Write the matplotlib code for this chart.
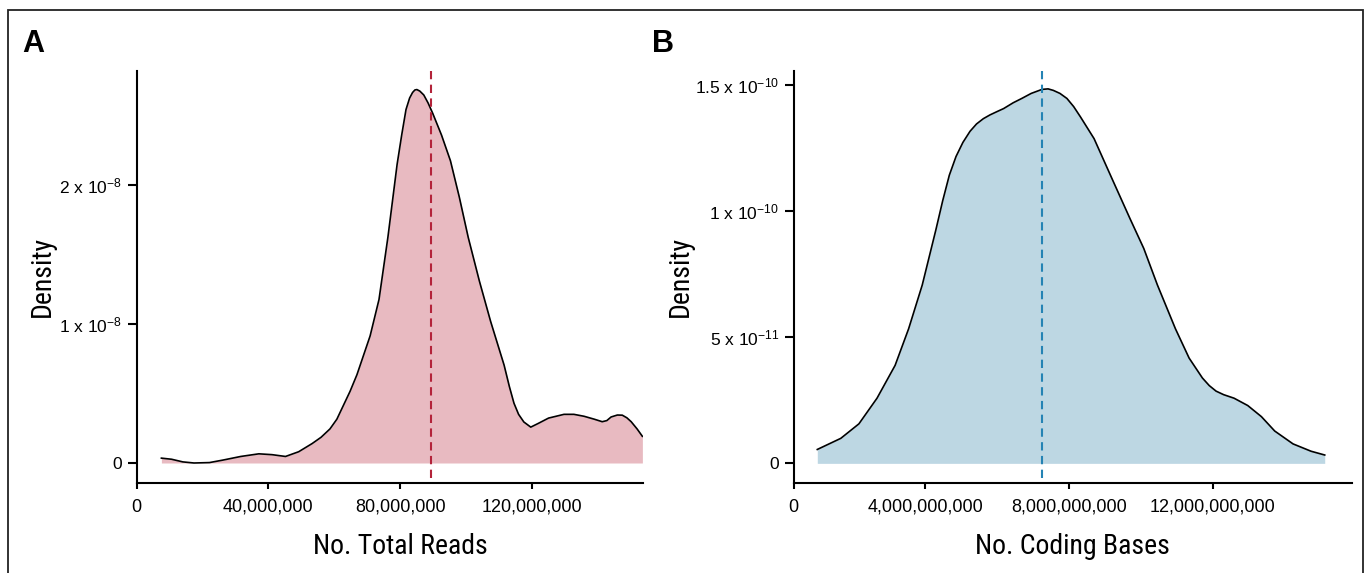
import matplotlib
matplotlib.use("Agg")
import matplotlib.pyplot as plt
from matplotlib.patches import Rectangle
from matplotlib import font_manager

plt.rcParams['font.family'] = ['Liberation Sans', 'DejaVu Sans']
plt.rcParams['mathtext.fontset'] = 'custom'
plt.rcParams['mathtext.rm'] = 'Liberation Sans'
plt.rcParams['mathtext.it'] = 'Liberation Sans'

# Panel A: density of total reads
reads_x = [7.5e6, 10.6e6, 14.0e6, 17.4e6, 22.1e6, 26.2e6, 31.6e6, 37.1e6, 41.1e6, 45.2e6,
           49.2e6, 53.3e6, 56.0e6, 58.7e6, 60.8e6, 62.8e6, 64.8e6, 66.9e6, 70.9e6, 73.6e6,
           76.3e6, 79.1e6, 80.5e6,
           81.8e6, 82.9e6, 83.8e6, 84.5e6, 85.1e6, 86.0e6, 87.2e6, 88.5e6, 89.9e6, 92.6e6,
           95.3e6, 98.0e6, 100.7e6, 104.1e6, 107.5e6, 111.6e6, 113.2e6, 114.6e6, 116.0e6,
           117.6e6, 119.7e6, 122.0e6, 125.1e6, 129.8e6, 132.8e6, 135.9e6, 139.0e6, 141.4e6,
           142.8e6, 144.1e6, 146.0e6, 147.5e6, 148.9e6, 150.2e6, 152.0e6, 153.6e6]
reads_y = [0.035, 0.027, 0.008, 0.0, 0.003, 0.021, 0.047, 0.066, 0.060, 0.047,
           0.081, 0.140, 0.185, 0.245, 0.315, 0.415, 0.515, 0.635, 0.914, 1.176,
           1.623, 2.148, 2.36,
           2.542, 2.625, 2.665, 2.683, 2.686, 2.675, 2.647, 2.59, 2.516, 2.358,
           2.174, 1.912, 1.623, 1.308, 1.019, 0.704, 0.55, 0.43, 0.35,
           0.295, 0.258, 0.285, 0.323, 0.350, 0.35, 0.336, 0.315, 0.297,
           0.305, 0.331, 0.345, 0.344, 0.325, 0.297, 0.245, 0.192]
reads_y = [v * 1e-8 for v in reads_y]
reads_mean = 89.5e6
reads_ticks = [0, 40e6, 80e6, 120e6]
reads_ticklabels = ['0', '40,000,000', '80,000,000', '120,000,000']
reads_yticks = [0, 1e-8, 2e-8]
reads_yticklabels = ['0', r'1 x 10$^{\mathregular{-8}}$', r'2 x 10$^{\mathregular{-8}}$']

# Panel B: density of coding bases
bases_x = [1.004, 1.657, 2.161, 2.664, 3.167, 3.543, 3.921, 4.299, 4.49, 4.674, 4.86, 5.052,
           5.25, 5.43, 5.62, 5.806, 6.0, 6.184, 6.45, 6.687, 6.95, 7.252, 7.42, 7.566,
           7.75, 7.944, 8.13, 8.32, 8.698, 9.201, 9.704, 10.08, 10.46, 10.96, 11.34, 11.71,
           11.9, 12.09, 12.3, 12.59, 12.97, 13.35, 13.72, 14.23, 14.73, 15.11]
bases_x = [v * 1e9 for v in bases_x]
bases_y = [0.55, 0.99, 1.565, 2.58, 3.88, 5.33, 7.06, 9.24, 10.40, 11.41, 12.15, 12.71,
           13.15, 13.44, 13.65, 13.80, 13.93, 14.05, 14.28, 14.45, 14.65, 14.81, 14.83, 14.77,
           14.65, 14.45, 14.13, 13.72, 12.86, 11.26, 9.67, 8.51, 7.06, 5.33, 4.17, 3.38,
           3.08, 2.86, 2.72, 2.58, 2.29, 1.85, 1.28, 0.77, 0.48, 0.33]
bases_y = [v * 1e-11 for v in bases_y]
bases_mean = 7.25e9
bases_ticks = [0.348e9, 4e9, 8e9, 12e9]
bases_ticklabels = ['0', '4,000,000,000', '8,000,000,000', '12,000,000,000']
bases_yticks = [0, 5e-11, 1e-10, 1.5e-10]
bases_yticklabels = ['0', r'5 x 10$^{\mathregular{-11}}$', r'1 x 10$^{\mathregular{-10}}$',
                     r'1.5 x 10$^{\mathregular{-10}}$']

W, H = 1368, 573
fig = plt.figure(figsize=(W / 100, H / 100), dpi=100)


def px_box(x0, y0, x1, y1):
    return [x0 / W, 1 - y1 / H, (x1 - x0) / W, (y1 - y0) / H]


# outer frame
fig.patches.append(Rectangle((8 / W, -0.05), (1363 - 8) / W, 1.05 - 10 / H,
                             transform=fig.transFigure, fill=False,
                             edgecolor='#222222', linewidth=1.3))

axA = fig.add_axes(px_box(136.7, 71.2, 642.7, 483.3))
axB = fig.add_axes(px_box(793.7, 71.2, 1351.7, 483.3))


def style(ax, xs, ys, fill, dash_col, mean, xticks, xlabels, yticks, ylabels, xlim, ylim):
    ax.fill_between(xs, 0, ys, color=fill, linewidth=0)
    ax.plot(xs, ys, color='black', linewidth=1.2, solid_joinstyle='round')
    ax.axvline(mean, ymin=0.012, ymax=1, color=dash_col, linewidth=1.5,
               linestyle=(0, (4, 2.6)))
    ax.set_xlim(*xlim)
    ax.set_ylim(*ylim)
    ax.set_xticks(xticks)
    ax.set_xticklabels(xlabels, fontsize=13)
    ax.set_yticks(yticks)
    ax.set_yticklabels(ylabels, fontsize=12.5)
    for s in ['top', 'right']:
        ax.spines[s].set_visible(False)
    for s in ['left', 'bottom']:
        ax.spines[s].set_linewidth(1.5)
    ax.tick_params(axis='x', length=4.5, width=1.5, pad=6.5)
    ax.tick_params(axis='y', length=6.5, width=1.5, pad=4)
    ax.patch.set_alpha(0)


style(axA, reads_x, reads_y, '#e8bac1', '#b3233a', reads_mean,
      reads_ticks, reads_ticklabels, reads_yticks, reads_yticklabels,
      (0, 153.7e6), (-0.146e-8, 2.818e-8))
style(axB, bases_x, bases_y, '#bdd7e3', '#2483b4', bases_mean,
      bases_ticks, bases_ticklabels, bases_yticks, bases_yticklabels,
      (0.348e9, 15.86e9), (-0.79e-11, 15.53e-11))

# condensed face if one is installed, else a regular face at a smaller size
installed = {f.name for f in font_manager.fontManager.ttflist}
cond = [n for n in ['Roboto Condensed', 'Liberation Sans Narrow', 'Open Sans Condensed']
        if n in installed]
if cond:
    lab_font, lab_size = [cond[0], 'DejaVu Sans'], 20
else:
    lab_font, lab_size = ['Roboto', 'Liberation Sans', 'DejaVu Sans'], 18

fig.text(400 / W, 1 - 547 / H, 'No. Total Reads', family=lab_font, fontsize=lab_size,
         ha='center', va='center')
fig.text(1072 / W, 1 - 547 / H, 'No. Coding Bases', family=lab_font, fontsize=lab_size,
         ha='center', va='center')
fig.text(42 / W, 1 - 276 / H, 'Density', family=lab_font, fontsize=lab_size,
         ha='center', va='center', rotation=90)
fig.text(680 / W, 1 - 276 / H, 'Density', family=lab_font, fontsize=lab_size,
         ha='center', va='center', rotation=90)

fig.text(22 / W, 1 - 52 / H, 'A', fontsize=22, fontweight='bold', ha='left', va='baseline')
fig.text(652 / W, 1 - 52 / H, 'B', fontsize=22, fontweight='bold', ha='left', va='baseline')

fig.savefig('out.png', dpi=100)
